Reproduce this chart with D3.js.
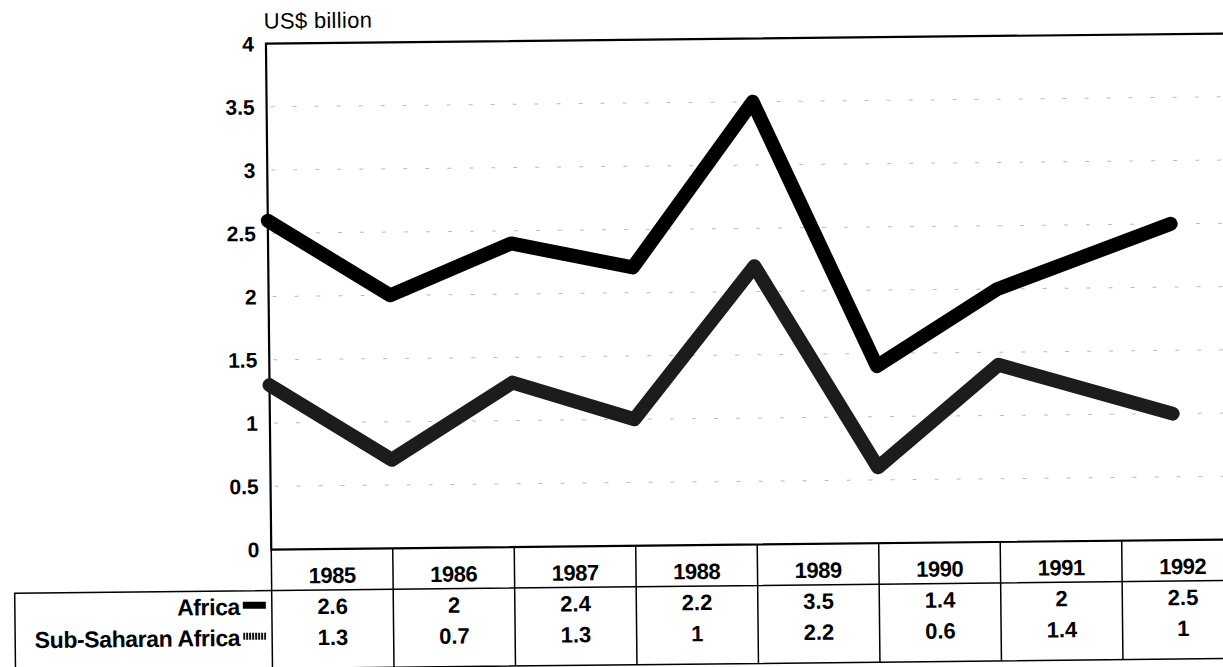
<!DOCTYPE html>
<html>
<head>
<meta charset="utf-8">
<script src="https://cdn.jsdelivr.net/npm/d3@7"></script>
<style>
  body { margin: 0; background: #fff; }
  svg { display: block; }
  text { font-family: "Liberation Sans", Arial, sans-serif; fill: #000; }
</style>
</head>
<body>
<svg></svg>
<script>
const years = [1985, 1986, 1987, 1988, 1989, 1990, 1991, 1992]
const africa = [2.6, 2, 2.4, 2.2, 3.5, 1.4, 2, 2.5]
const subSaharan = [1.3, 0.7, 1.3, 1, 2.2, 0.6, 1.4, 1]
const seriesNames = ['Africa', 'Sub-Saharan Africa']
const yTicks = [0, 0.5, 1, 1.5, 2, 2.5, 3, 3.5, 4]

const W = 1223, H = 667
const svg = d3.select('svg')
    .attr('width', W)
    .attr('height', H)

// stripes for the sub-saharan legend swatch
svg.append('defs').append('pattern')
    .attr('id', 'stripes')
    .attr('width', 3).attr('height', 3)
    .attr('patternUnits', 'userSpaceOnUse')
    .call(p => {
        p.append('rect').attr('width', 3).attr('height', 3).attr('fill', '#fff')
        p.append('rect').attr('width', 2).attr('height', 3).attr('fill', '#111')
    })

// scanned page is a little tilted
const g = svg.append('g').attr('transform', 'rotate(-0.6 611 333)')

const plotLeft = 269, plotTop = 40, plotBottom = 546
const bw = 121.5
const tableLeft = 12, row1 = 587, tableBottom = 665

const xBand = d3.scaleBand()
    .domain(years)
    .range([plotLeft, plotLeft + bw * years.length])
    .padding(0)
const plotRight = xBand.range()[1]

// points sit on the column edges, the last one inside its column
const x = d3.scaleLinear()
    .domain([1985, 1991, 1992])
    .range([xBand(1985), xBand(1991), xBand(1992) + xBand.bandwidth() * 0.43])

const y = d3.scaleLinear()
    .domain([0, 4])
    .range([plotBottom, plotTop])

// faint dotted grid
g.append('g')
    .selectAll('line')
    .data(yTicks.filter(t => t > 0 && t < 4))
    .enter()
    .append('line')
    .attr('x1', plotLeft + 4)
    .attr('x2', plotRight)
    .attr('y1', d => y(d))
    .attr('y2', d => y(d))
    .attr('stroke', '#bbb')
    .attr('stroke-width', 1)
    .attr('stroke-dasharray', '4,18')

// frame
g.append('path')
    .attr('d', `M${plotRight},${plotTop}H${plotLeft}V${plotBottom}H${plotRight}`)
    .attr('fill', 'none')
    .attr('stroke', '#000')
    .attr('stroke-width', 2.2)

// y labels
g.append('g')
    .selectAll('text')
    .data(yTicks)
    .enter()
    .append('text')
    .attr('x', 257)
    .attr('y', d => y(d))
    .attr('dy', '0.36em')
    .attr('text-anchor', 'end')
    .style('font-size', '21px')
    .style('font-weight', 'bold')
    .text(d => d)

g.append('text')
    .attr('x', 267)
    .attr('y', 25)
    .style('font-size', '22px')
    .style('letter-spacing', '0.3px')
    .text('US$ billion')

// lines
const line = d3.line()
    .x((d, i) => x(years[i]))
    .y(d => y(d))

const series = [
    { name: seriesNames[0], values: africa, color: '#000' },
    { name: seriesNames[1], values: subSaharan, color: '#1c1c1c' }
]

g.append('g')
    .selectAll('path')
    .data(series)
    .enter()
    .append('path')
    .attr('d', d => line(d.values))
    .attr('fill', 'none')
    .attr('stroke', d => d.color)
    .attr('stroke-width', 14)
    .attr('stroke-linejoin', 'round')
    .attr('stroke-linecap', 'round')

// data table
const table = g.append('g')
table.selectAll('line.col')
    .data(years.concat(['end']))
    .enter()
    .append('line')
    .attr('x1', d => d === 'end' ? plotRight : xBand(d))
    .attr('x2', d => d === 'end' ? plotRight : xBand(d))
    .attr('y1', plotBottom)
    .attr('y2', tableBottom)
    .attr('stroke', '#000')
    .attr('stroke-width', 1.5)

table.append('path')
    .attr('d', `M${plotRight},${row1}H${tableLeft}V${tableBottom}H${plotRight}`)
    .attr('fill', 'none')
    .attr('stroke', '#000')
    .attr('stroke-width', 1.5)

table.selectAll('text.year')
    .data(years)
    .enter()
    .append('text')
    .attr('x', d => xBand(d) + xBand.bandwidth() / 2)
    .attr('y', 580)
    .attr('text-anchor', 'middle')
    .style('font-size', '22px')
    .style('font-weight', 'bold')
    .style('letter-spacing', '-0.5px')
    .text(d => d)

const rowY = [611, 642]
series.forEach((s, r) => {
    table.selectAll('text.v' + r)
        .data(s.values)
        .enter()
        .append('text')
        .attr('x', (d, i) => xBand(years[i]) + xBand.bandwidth() / 2)
        .attr('y', rowY[r])
        .attr('text-anchor', 'middle')
        .style('font-size', '22px')
        .style('font-weight', 'bold')
        .text(d => d)

    table.append('text')
        .attr('x', 237)
        .attr('y', rowY[r])
        .attr('text-anchor', 'end')
        .style('font-size', '23px')
        .style('font-weight', 'bold')
        .style('letter-spacing', '-0.4px')
        .text(s.name)

    table.append('rect')
        .attr('x', 240)
        .attr('y', rowY[r] - 13)
        .attr('width', 23)
        .attr('height', 7)
        .attr('fill', r === 0 ? '#000' : 'url(#stripes)')
})
</script>
</body>
</html>
